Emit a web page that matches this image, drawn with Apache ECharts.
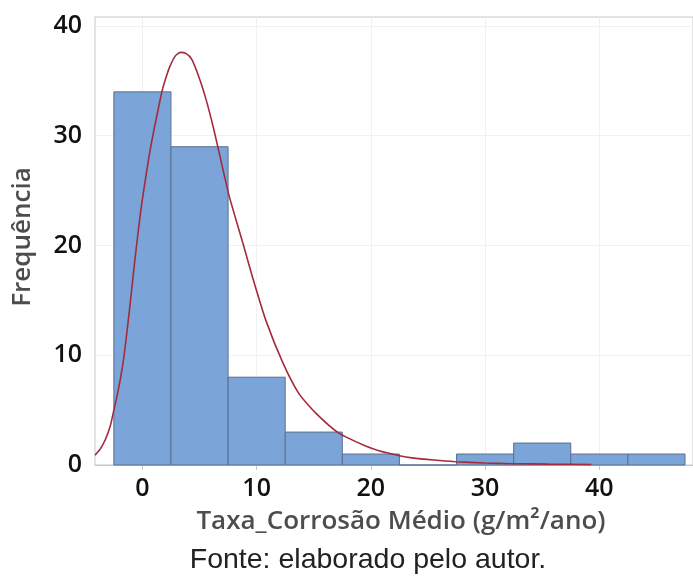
<!DOCTYPE html>
<html>
<head>
<meta charset="utf-8">
<script src="https://cdn.jsdelivr.net/npm/echarts@6/dist/echarts.min.js"></script>
<style>
  html, body { margin: 0; padding: 0; background: #ffffff; }
  #chart { width: 693px; height: 578px; }
</style>
</head>
<body>
<div id="chart"></div>
<script>
// Histogram bins (centre of each class, class width 5)
var binCenters = [0, 5, 10, 15, 20, 25, 30, 35, 40, 45];
var binWidth = 5;
var frequencies = [34, 29, 8, 3, 1, 0, 1, 2, 1, 1];

// Fitted density curve, scaled to frequency
var curveX = [-4.15, -3.7, -3.25, -2.8, -2.5, -2.2, -1.9, -1.6, -1.3, -1.0, -0.7, -0.4, -0.1, 0.2, 0.5, 0.8, 1.1, 1.4, 1.7, 2.0, 2.4, 2.9, 3.36, 3.8, 4.3, 5.0, 5.6, 6.2, 6.6, 7.6, 8.8, 9.7, 10.8, 12.3, 13.7, 15.2, 17.2, 19.6, 20.7, 22.5, 23.6, 25.5, 27.4, 30.0, 32.3, 35.5, 39.3];
var curveY = [0.9, 1.45, 2.3, 3.6, 5.0, 6.4, 8.0, 10.0, 12.6, 15.4, 18.3, 21.0, 23.5, 25.6, 27.6, 29.4, 31.0, 32.5, 34.0, 35.1, 36.3, 37.3, 37.6, 37.5, 37.0, 35.2, 33.2, 30.8, 29.0, 24.5, 20.2, 16.9, 13.2, 9.3, 6.5, 4.7, 2.9, 1.7, 1.3, 0.85, 0.65, 0.45, 0.3, 0.18, 0.12, 0.08, 0.05];

// Axis ticks
var xTicks = [0, 10, 20, 30, 40];
var yTicks = [0, 10, 20, 30, 40];

var xTitle = 'Taxa_Corrosão Médio (g/m²/ano)';
var yTitle = 'Frequência';
var sourceNote = 'Fonte: elaborado pelo autor.';

var histData = binCenters.map(function (c, i) {
  return [c - binWidth / 2, c + binWidth / 2, frequencies[i]];
});
var curveData = curveX.map(function (x, i) { return [x, curveY[i]]; });

var gridLines = xTicks.map(function (v) { return { xAxis: v }; })
  .concat(yTicks.filter(function (v) { return v > 0; }).map(function (v) { return { yAxis: v }; }));

var tickFont = { fontFamily: 'Open Sans', fontWeight: 600, fontSize: 25, color: '#111111' };
var titleFontCss = '600 26px "Open Sans", sans-serif';

var chart = echarts.init(document.getElementById('chart'), null, { renderer: 'canvas' });
chart.setOption({
  animation: false,
  backgroundColor: '#ffffff',
  grid: {
    left: 95, top: 17, width: 600, height: 448,
    show: true, borderColor: '#c8c8c8', borderWidth: 1, backgroundColor: 'transparent'
  },
  xAxis: {
    type: 'value',
    min: -4.15,
    max: 48.2,
    axisLine: { show: true, lineStyle: { color: '#c8c8c8', width: 1 } },
    axisTick: { show: true, length: 5, customValues: xTicks, lineStyle: { color: '#c8c8c8' } },
    axisLabel: Object.assign({ margin: 11, customValues: xTicks }, tickFont),
    splitLine: { show: false }
  },
  yAxis: {
    type: 'value',
    min: 0,
    max: 40.82,
    axisLine: { show: true, lineStyle: { color: '#c8c8c8', width: 1 } },
    axisTick: { show: true, length: 5, customValues: yTicks, lineStyle: { color: '#c8c8c8' } },
    axisLabel: Object.assign({ margin: 13, customValues: yTicks }, tickFont),
    splitLine: { show: false }
  },
  graphic: [
    {
      type: 'text',
      x: 401,
      y: 522,
      style: {
        text: xTitle,
        font: titleFontCss,
        fill: '#4d4d4d',
        textAlign: 'center',
        textVerticalAlign: 'middle'
      }
    },
    {
      type: 'text',
      x: 23,
      y: 237,
      rotation: Math.PI / 2,
      style: {
        text: yTitle,
        font: titleFontCss,
        fill: '#4d4d4d',
        textAlign: 'center',
        textVerticalAlign: 'middle'
      }
    },
    {
      type: 'text',
      x: 368,
      y: 560,
      style: {
        text: sourceNote,
        font: '28.5px "Liberation Sans", Arial, sans-serif',
        fill: '#222222',
        textAlign: 'center',
        textVerticalAlign: 'middle'
      }
    }
  ],
  series: [
    {
      // faint reference grid behind the bars
      type: 'line',
      data: [],
      z: 1,
      silent: true,
      markLine: {
        z: 1,
        silent: true,
        symbol: 'none',
        label: { show: false },
        lineStyle: { color: '#f1f1f1', width: 1, type: 'solid' },
        data: gridLines
      }
    },
    {
      type: 'custom',
      z: 2,
      data: histData,
      encode: { x: [0, 1], y: 2 },
      renderItem: function (params, api) {
        var p0 = api.coord([api.value(0), api.value(2)]);
        var p1 = api.coord([api.value(1), 0]);
        return {
          type: 'rect',
          shape: { x: p0[0], y: p0[1], width: p1[0] - p0[0], height: p1[1] - p0[1] },
          style: { fill: '#7ba4d8', stroke: '#5a7090', lineWidth: 1 }
        };
      }
    },
    {
      type: 'line',
      z: 3,
      data: curveData,
      smooth: 0.2,
      showSymbol: false,
      clip: true,
      lineStyle: { color: '#a42a3c', width: 1.6 }
    }
  ]
});
</script>
</body>
</html>
